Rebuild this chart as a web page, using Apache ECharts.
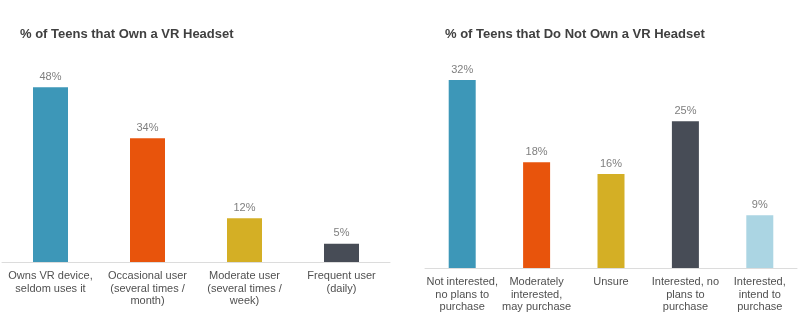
<!DOCTYPE html>
<html><head><meta charset="utf-8">
<script src="https://cdn.jsdelivr.net/npm/echarts@6/dist/echarts.min.js"></script>
<style>html,body{margin:0;padding:0;background:#fff}#c{width:800px;height:321px}</style>
</head><body><div id="c"></div>
<script>
const leftTitle = "% of Teens that Own a VR Headset";
const rightTitle = "% of Teens that Do Not Own a VR Headset";
const leftCats = ["Owns VR device,\nseldom uses it", "Occasional user\n(several times /\nmonth)", "Moderate user\n(several times /\nweek)", "Frequent user\n(daily)"];
const leftVals = [48, 34, 12, 5];
const leftColors = ["#3d97b8", "#e8540c", "#d4af25", "#474c56"];
const rightCats = ["Not interested,\nno plans to\npurchase", "Moderately\ninterested,\nmay purchase", "Unsure", "Interested, no\nplans to\npurchase", "Interested,\nintend to\npurchase"];
const rightVals = [32, 18, 16, 25, 9];
const rightColors = ["#3d97b8", "#e8540c", "#d4af25", "#474c56", "#abd5e3"];

const font = "Liberation Sans, Arial, sans-serif";
const chart = echarts.init(document.getElementById('c'), null, {renderer: 'canvas'});
function mkData(vals, cols){ return vals.map((v,i)=>({value:v, itemStyle:{color:cols[i]}})); }
const xAxisCommon = {
  type:'category', axisTick:{show:false},
  axisLine:{lineStyle:{color:'#dcdcdc', width:1}},
  axisLabel:{color:'#505050', fontSize:11, fontFamily:font, lineHeight:12.5, margin:8, interval:0}
};
const labelCommon = {show:true, position:'top', distance:5, color:'#7f7f7f', fontSize:11, fontFamily:font, formatter:'{c}%'};
chart.setOption({
  animation:false,
  title:[
    {text:leftTitle, left:15, top:23, textStyle:{fontSize:13, fontWeight:'bold', color:'#404040', fontFamily:font}},
    {text:rightTitle, left:440, top:23, textStyle:{fontSize:13, fontWeight:'bold', color:'#404040', fontFamily:font}}
  ],
  grid:[
    {left:2, width:388, top:80, height:182},
    {left:425, width:372, top:62.4, height:205.6}
  ],
  xAxis:[
    Object.assign({gridIndex:0, data:leftCats}, xAxisCommon),
    Object.assign({gridIndex:1, data:rightCats}, xAxisCommon)
  ],
  yAxis:[
    {gridIndex:0, type:'value', min:0, max:50, show:false, splitLine:{show:false}},
    {gridIndex:1, type:'value', min:0, max:35, show:false, splitLine:{show:false}}
  ],
  series:[
    {type:'bar', xAxisIndex:0, yAxisIndex:0, barWidth:35, data:mkData(leftVals,leftColors), label:labelCommon},
    {type:'bar', xAxisIndex:1, yAxisIndex:1, barWidth:27, data:mkData(rightVals,rightColors), label:labelCommon}
  ]
});
</script></body></html>
